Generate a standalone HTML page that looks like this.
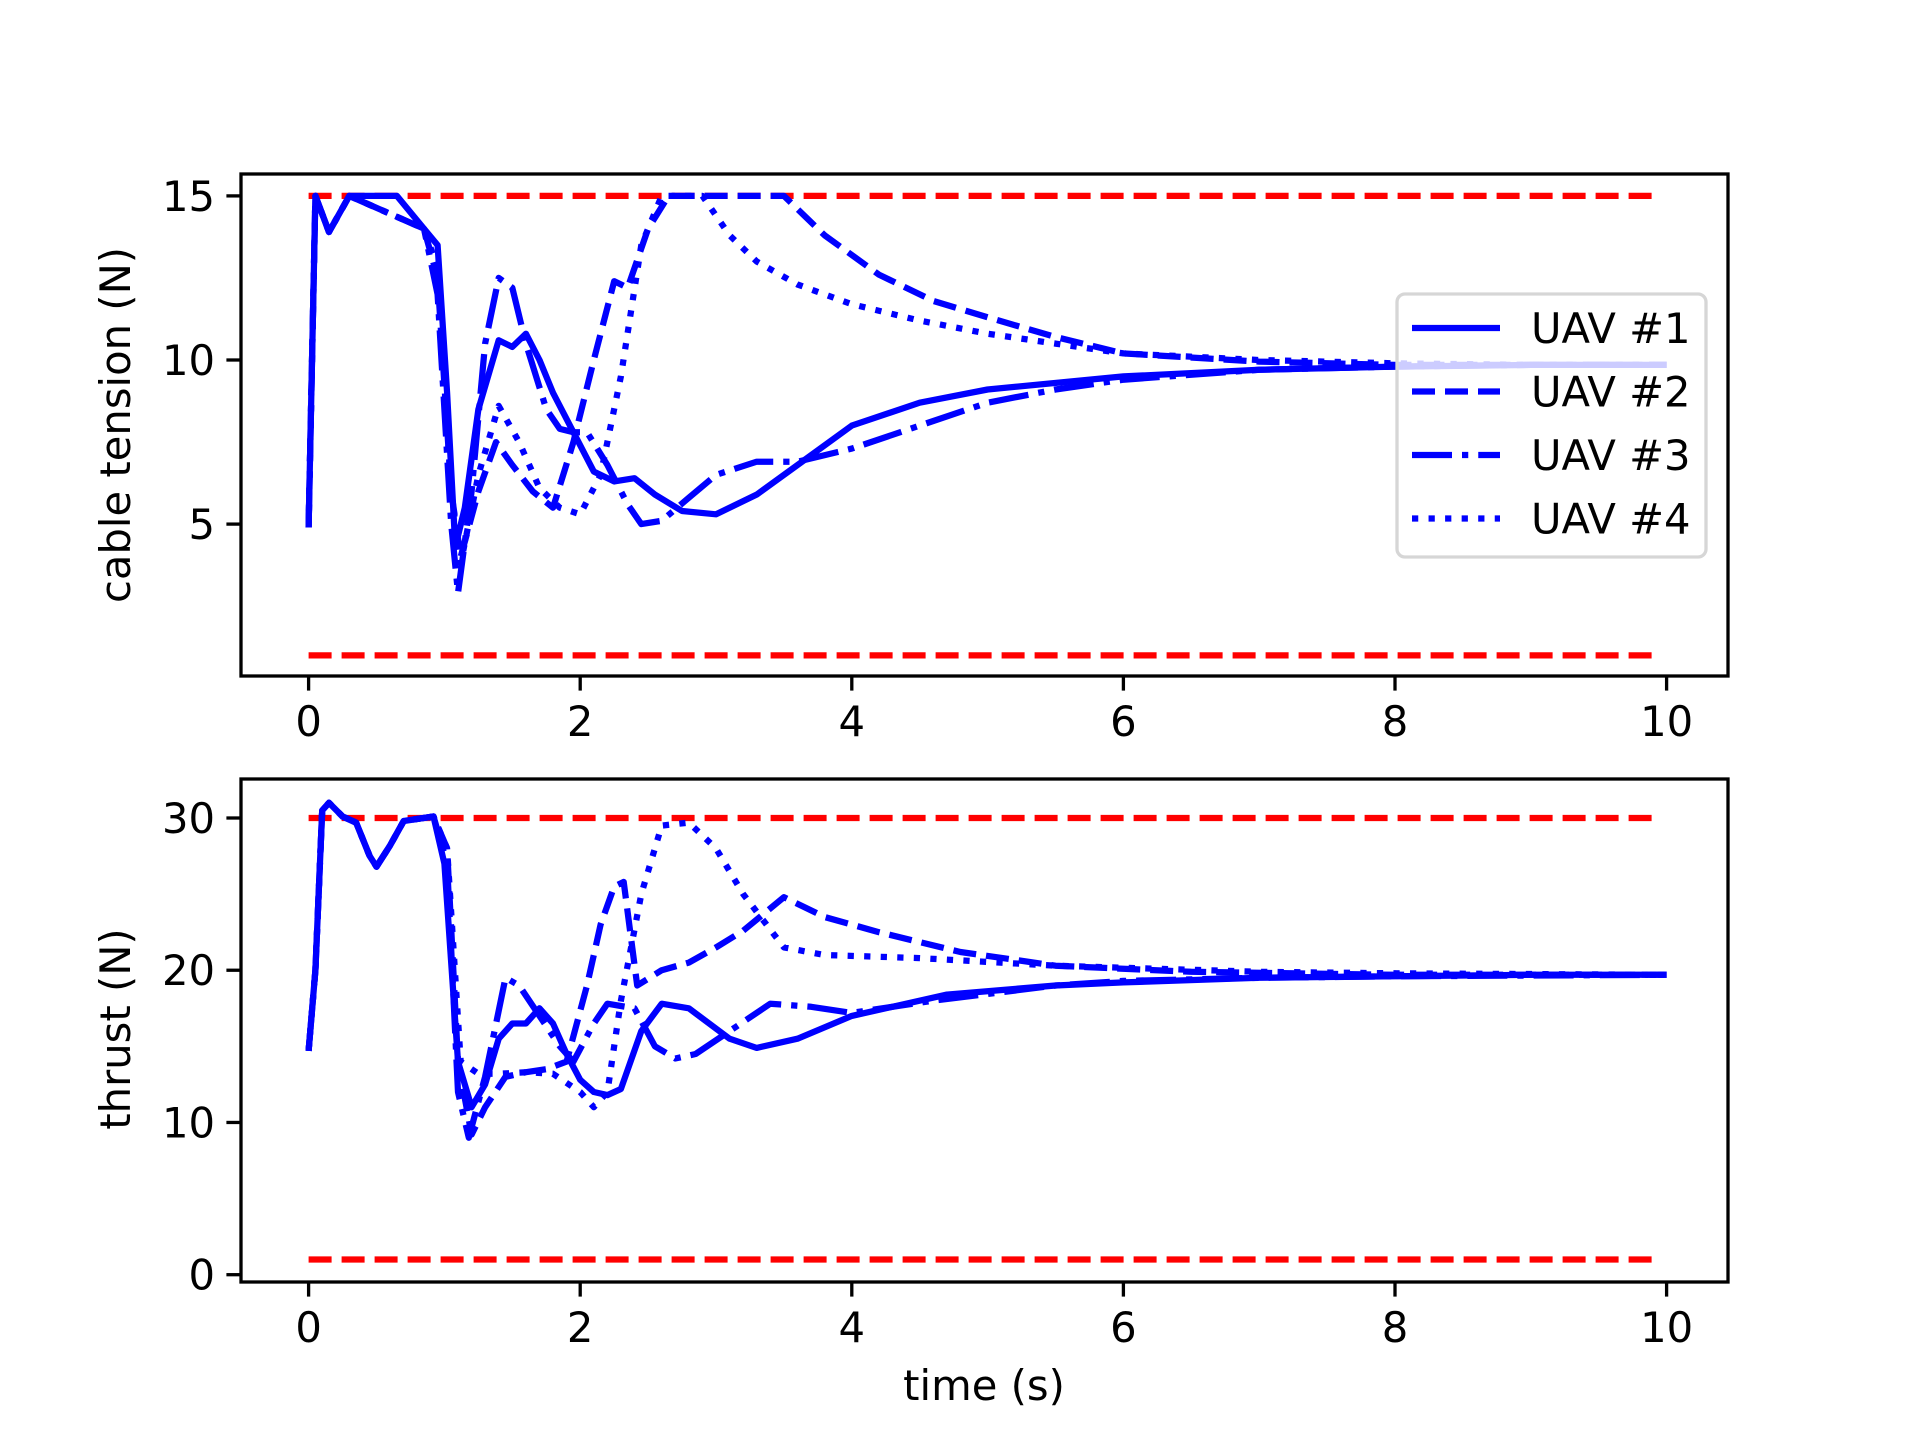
<!DOCTYPE html>
<html><head><meta charset="utf-8"><style>
html,body{margin:0;padding:0;background:#fff}
svg{display:block}
text{font-family:"DejaVu Sans","Liberation Sans",sans-serif;fill:#000}
</style></head><body>
<svg id="fig" width="1920" height="1440" viewBox="0 0 1920 1440" xmlns="http://www.w3.org/2000/svg"></svg>
<script>
// ---- data ----
const xTicks = [0, 2, 4, 6, 8, 10];
const topYTicks = [5, 10, 15];
const botYTicks = [0, 10, 20, 30];
const tensionLimits = [1, 15];
const thrustLimits = [1, 30];

const tTop1 = [0,0.05,0.15,0.3,0.65,0.85,0.95,1.02,1.08,1.15,1.25,1.4,1.5,1.6,1.7,1.8,1.95,2.1,2.25,2.4,2.55,2.75,3.0,3.3,3.7,4.0,4.5,5.0,6.0,7.0,8.0,9.0,10.0];
const vTop1 = [4.9,15,13.9,15,15,14,13.5,9,4.3,5.5,8.5,10.6,10.4,10.8,10,9,7.8,6.6,6.3,6.4,5.9,5.4,5.3,5.9,7.1,8,8.7,9.1,9.5,9.7,9.8,9.85,9.85];
const tTop2 = [0,0.05,0.15,0.3,0.85,0.95,1.05,1.12,1.25,1.38,1.5,1.65,1.8,1.95,2.1,2.25,2.35,2.5,2.65,3.0,3.5,3.8,4.2,4.6,5.0,5.5,6.0,7.0,8.0,9.0,10.0];
const vTop2 = [4.9,15,13.9,15,14,12.5,6,4,6,7.5,6.8,6,5.5,7.5,10,12.4,12.2,14,15,15,15,13.8,12.6,11.8,11.3,10.7,10.2,9.95,9.85,9.85,9.85];
const tTop3 = [0,0.05,0.15,0.3,0.85,0.95,1.05,1.1,1.2,1.3,1.4,1.5,1.6,1.75,1.85,1.95,2.05,2.2,2.35,2.45,2.6,2.8,3.0,3.3,3.6,4.0,4.5,5.0,5.5,6.0,7.0,8.0,9.0,10.0];
const vTop3 = [4.9,15,13.9,15,14,12,5,2.9,6,10.5,12.5,12.2,10.5,8.5,7.9,7.8,7.8,6.8,5.6,5,5.1,5.8,6.5,6.9,6.9,7.3,8,8.7,9.1,9.4,9.7,9.8,9.85,9.85];
const tTop4 = [0,0.05,0.15,0.3,0.85,0.95,1.05,1.12,1.25,1.4,1.55,1.7,1.85,2.0,2.15,2.3,2.45,2.6,2.9,3.1,3.3,3.6,4.0,4.5,5.0,5.5,6.0,7.0,8.0,9.0,10.0];
const vTop4 = [4.9,15,13.9,15,14,12.8,6,3.8,6.5,8.6,7.5,6.1,5.5,5.3,6.5,9.5,13.5,15,15,13.8,13,12.3,11.7,11.2,10.8,10.5,10.2,10,9.9,9.85,9.85];

const tBot1 = [0,0.05,0.1,0.15,0.25,0.35,0.45,0.5,0.6,0.7,0.92,1.0,1.1,1.2,1.3,1.4,1.5,1.6,1.7,1.8,1.9,2.0,2.1,2.2,2.3,2.45,2.6,2.8,3.1,3.3,3.6,4.0,4.7,5.5,6.0,7.0,8.0,9.0,10.0];
const vBot1 = [14.7,20,30.5,31,30.1,29.7,27.5,26.8,28.2,29.8,30.1,27,14,11,12.5,15.5,16.5,16.5,17.5,16.5,14.5,12.8,12,11.8,12.2,16,17.8,17.5,15.5,14.9,15.5,17,18.4,19,19.2,19.5,19.6,19.7,19.7];
const tBot2 = [0,0.05,0.1,0.15,0.25,0.35,0.45,0.5,0.6,0.7,0.92,1.02,1.1,1.2,1.3,1.45,1.6,1.75,1.9,2.05,2.15,2.25,2.32,2.42,2.6,2.8,3.0,3.2,3.5,3.8,4.2,4.8,5.5,6.5,8.0,10.0];
const vBot2 = [14.7,20,30.5,31,30.1,29.7,27.5,26.8,28.2,29.8,30.1,28,14,9.2,11,13,13.3,13.5,14,19,23,25.5,25.8,19,20,20.5,21.5,22.6,24.8,23.5,22.5,21.2,20.3,19.9,19.7,19.7];
const tBot3 = [0,0.05,0.1,0.15,0.25,0.35,0.45,0.5,0.6,0.7,0.92,1.02,1.1,1.18,1.3,1.45,1.55,1.7,1.85,1.95,2.1,2.2,2.4,2.55,2.7,2.85,3.1,3.4,3.7,4.0,4.6,5.5,6.0,7.0,8.0,10.0];
const vBot3 = [14.7,20,30.5,31,30.1,29.7,27.5,26.8,28.2,29.8,30.1,27,12,9,13,19.5,19,17,15,14,16.5,17.8,17.5,15,14.2,14.5,16,17.8,17.6,17.2,18,19,19.3,19.5,19.6,19.7];
const tBot4 = [0,0.05,0.1,0.15,0.25,0.35,0.45,0.5,0.6,0.7,0.92,1.02,1.12,1.25,1.4,1.6,1.8,2.0,2.1,2.2,2.3,2.45,2.6,2.8,3.0,3.2,3.5,3.8,4.5,5.5,7.0,8.0,10.0];
const vBot4 = [14.7,20,30.5,31,30.1,29.7,27.5,26.8,28.2,29.8,30.1,28,14,13.2,13.2,13.3,13.2,12,11,12,18,25,29.5,29.7,28,25,21.5,21,20.8,20.3,19.9,19.8,19.7];

// ---- layout ----
const svg = document.getElementById('fig');
const NS = 'http://www.w3.org/2000/svg';
const AX_L = 241, AX_R = 1728;
const axTop = {y0: 174, y1: 676, v0: 5, p0: 524.1, v1: 15, p1: 195.9};
const axBot = {y0: 779, y1: 1282, v0: 0, p0: 1274.7, v1: 30, p1: 818};
const X = t => 308.6 + t * (1666.6 - 308.6) / 10;
const mkY = a => v => a.p0 + (v - a.v0) * (a.p1 - a.p0) / (a.v1 - a.v0);
const Ytop = mkY(axTop), Ybot = mkY(axBot);

function el(tag, attrs) {
  const e = document.createElementNS(NS, tag);
  for (const k in attrs) e.setAttribute(k, attrs[k]);
  return e;
}
const styles = [
  {dash: 'none', cap: 'butt'},
  {dash: '23 10', cap: 'butt'},
  {dash: '40 10 6.25 10', cap: 'butt'},
  {dash: '6.25 10.3', cap: 'butt'}
];

function drawAxes(a, Y, yTicks, limits, series, name) {
  const g = el('g', {});
  
  
  svg.appendChild(g);
  limits.forEach((lv, i) => {
    const l = el('line', {x1: X(0), x2: X(9.95), y1: Y(lv), y2: Y(lv), stroke: '#ff0000', 'stroke-width': 6.25, 'stroke-dasharray': '23 10'});
    
    
    g.appendChild(l);
  });
  series.forEach((s, i) => {
    const pts = s[0].map((t, j) => X(t).toFixed(1) + ',' + Y(s[1][j]).toFixed(1)).join(' ');
    const p = el('polyline', {points: pts, fill: 'none', stroke: '#0000ff', 'stroke-width': 6.25, 'stroke-linejoin': 'round', 'stroke-linecap': styles[i].cap});
    if (styles[i].dash !== 'none') p.setAttribute('stroke-dasharray', styles[i].dash);
    
    
    g.appendChild(p);
  });
  const fr = el('rect', {x: AX_L, y: a.y0, width: AX_R - AX_L, height: a.y1 - a.y0, fill: 'none', stroke: '#000', 'stroke-width': 3.3});
  
  
  g.appendChild(fr);
  xTicks.forEach(t => {
    const tk = el('line', {x1: X(t), x2: X(t), y1: a.y1, y2: a.y1 + 14.6, stroke: '#000', 'stroke-width': 3.3});
    
    
    g.appendChild(tk);
    const tx = el('text', {x: X(t), y: a.y1 + 60, 'font-size': 41.7, 'text-anchor': 'middle'});
    tx.textContent = t;
    
    
    g.appendChild(tx);
  });
  yTicks.forEach(v => {
    const tk = el('line', {x1: AX_L - 14.6, x2: AX_L, y1: Y(v), y2: Y(v), stroke: '#000', 'stroke-width': 3.3});
    
    
    g.appendChild(tk);
    const tx = el('text', {x: AX_L - 26, y: Y(v) + 15, 'font-size': 41.7, 'text-anchor': 'end'});
    tx.textContent = v;
    
    
    g.appendChild(tx);
  });
}

drawAxes(axTop, Ytop, topYTicks, tensionLimits, [[tTop1, vTop1], [tTop2, vTop2], [tTop3, vTop3], [tTop4, vTop4]], 'tension');
drawAxes(axBot, Ybot, botYTicks, thrustLimits, [[tBot1, vBot1], [tBot2, vBot2], [tBot3, vBot3], [tBot4, vBot4]], 'thrust');

function label(txt, x, y, rot, nm) {
  const t = el('text', {x: x, y: y, 'font-size': 41.7, 'text-anchor': 'middle'});
  if (rot) t.setAttribute('transform', 'rotate(-90 ' + x + ' ' + y + ')');
  t.textContent = txt;
  
  
  svg.appendChild(t);
}
label('cable tension (N)', 130, 425, true, 'tension-y-axis-title');
label('thrust (N)', 130, 1029, true, 'thrust-y-axis-title');
label('time (s)', 984, 1400, false, 'x-axis-title');

const legendLabels = ['UAV #1', 'UAV #2', 'UAV #3', 'UAV #4'];
const lg = el('g', {});


svg.appendChild(lg);
const lbox = el('rect', {x: 1397, y: 294, width: 309, height: 263, rx: 8, fill: 'rgba(255,255,255,0.8)', stroke: '#d6d6d6', 'stroke-width': 3.3});


lg.appendChild(lbox);
legendLabels.forEach((s, i) => {
  const y = 328 + i * 63.5;
  const l = el('line', {x1: 1412, x2: 1500, y1: y, y2: y, stroke: '#0000ff', 'stroke-width': 6.25});
  if (styles[i].dash !== 'none') l.setAttribute('stroke-dasharray', styles[i].dash);
  
  
  lg.appendChild(l);
  const t = el('text', {x: 1531, y: y + 15, 'font-size': 41.7});
  t.textContent = s;
  
  
  lg.appendChild(t);
});
</script>
</body></html>
